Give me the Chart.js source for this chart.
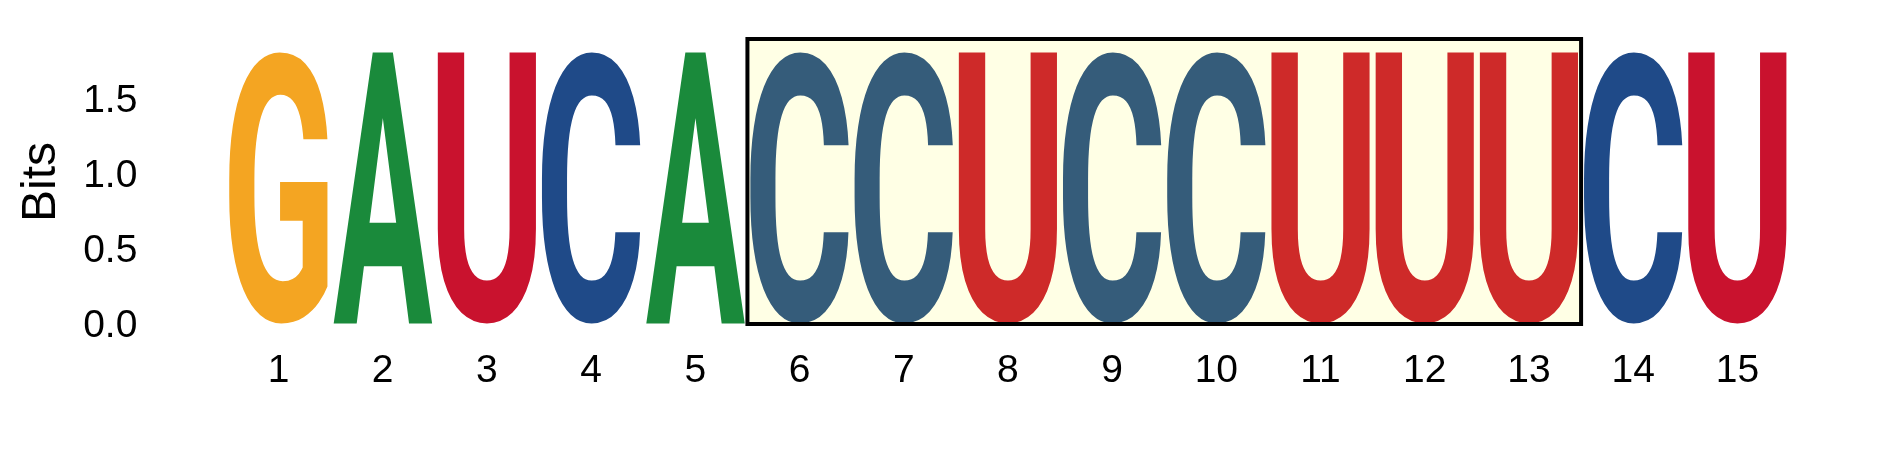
<!DOCTYPE html>
<html>
<head>
<meta charset="utf-8">
<script src="https://cdn.jsdelivr.net/npm/chart.js@4.4.0/dist/chart.umd.min.js"></script>
<style>
  html, body { margin: 0; padding: 0; background: #fff; }
  #wrap { width: 1889px; height: 472px; position: relative; }
</style>
</head>
<body>
<div id="wrap"><canvas id="logo"></canvas></div>
<script>
// sequence logo data
const positions = ['1', '2', '3', '4', '5', '6', '7', '8', '9', '10', '11', '12', '13', '14', '15'];
const letters = ['G', 'A', 'U', 'C', 'A', 'C', 'C', 'U', 'C', 'C', 'U', 'U', 'U', 'C', 'U'];
const bits = [1.85, 1.85, 1.85, 1.85, 1.85, 1.85, 1.85, 1.85, 1.85, 1.85, 1.85, 1.85, 1.85, 1.85, 1.85];
const yTicks = [0, 0.5, 1.0, 1.5];
const yMax = 1.92;
const highlightStart = 6;
const highlightEnd = 13;

const letterColors = { G: '#F4A522', A: '#1A8A3B', U: '#C9122E', C: '#1F4A88' };
const glyphFont = 'bold 200px Roboto, "Liberation Sans", Arial, sans-serif';
const vpad = 0.018;
const textFont = { family: '"Liberation Sans", Arial, sans-serif', size: 39 };

const logoPlugin = {
  id: 'logoGlyphs',
  afterDatasetsDraw(chart) {
    const ctx = chart.ctx;
    const meta = chart.getDatasetMeta(0);
    ctx.save();
    ctx.font = glyphFont;
    ctx.textBaseline = 'alphabetic';
    ctx.textAlign = 'left';
    meta.data.forEach((bar, i) => {
      const { x, y, base, width } = bar.getProps(['x', 'y', 'base', 'width'], true);
      const ch = letters[i];
      const m = ctx.measureText(ch);
      const gw = m.actualBoundingBoxLeft + m.actualBoundingBoxRight;
      const gh = m.actualBoundingBoxAscent + m.actualBoundingBoxDescent;
      const h = base - y;
      const pad = h * vpad / 2;
      ctx.save();
      ctx.translate(x - width / 2, base - pad);
      ctx.scale(width / gw, (h - 2 * pad) / gh);
      ctx.fillStyle = letterColors[ch];
      ctx.fillText(ch, m.actualBoundingBoxLeft, -m.actualBoundingBoxDescent);
      ctx.restore();
    });

    // highlighted range
    const xs = chart.scales.x, ys = chart.scales.y;
    const left = xs.getPixelForValue(highlightStart - 1.5);
    const right = xs.getPixelForValue(highlightEnd - 0.5);
    const top = ys.getPixelForValue(yMax) + 1;
    const bottom = ys.getPixelForValue(0) - 2;
    ctx.fillStyle = 'rgba(255, 255, 0, 0.1)';
    ctx.fillRect(left, top, right - left, bottom - top);
    ctx.lineWidth = 4;
    ctx.strokeStyle = '#000';
    ctx.strokeRect(left, top, right - left, bottom - top);
    ctx.restore();
  }
};

const ctx = document.getElementById('logo').getContext('2d');
const config = {
  type: 'bar',
  data: {
    labels: positions,
    datasets: [{
      label: 'Bits',
      data: bits,
      backgroundColor: 'rgba(0,0,0,0)',
      borderWidth: 0,
      barPercentage: 0.95,
      categoryPercentage: 1.0
    }]
  },
  options: {
    responsive: true,
    maintainAspectRatio: false,
    animation: false,
    events: [],
    layout: { padding: { top: 38, right: 99.5, bottom: 0, left: 0 } },
    plugins: {
      legend: { display: false },
      tooltip: { enabled: false }
    },
    scales: {
      x: {
        type: 'category',
        offset: true,
        grid: { display: false, drawTicks: false },
        border: { display: false },
        ticks: {
          color: '#000',
          font: textFont,
          padding: 22,
          maxRotation: 0,
          autoSkip: false
        },
        afterFit: s => { s.height = 146; s.paddingLeft = 0; s.paddingRight = 0; }
      },
      y: {
        min: 0,
        max: yMax,
        grid: { display: false, drawTicks: false },
        border: { display: false },
        afterBuildTicks: s => { s.ticks = yTicks.map(v => ({ value: v })); },
        ticks: {
          color: '#000',
          font: textFont,
          padding: 89,
          callback: v => Number(v).toFixed(1)
        },
        title: {
          display: true,
          text: 'Bits',
          color: '#000',
          font: { family: '"Liberation Sans", Arial, sans-serif', size: 48 },
          padding: { top: 13, bottom: 0 }
        },
        afterFit: s => { s.width = 226.4; s.paddingTop = 0; s.paddingBottom = 0; }
      }
    }
  },
  plugins: [logoPlugin]
};

var logoChart = new Chart(ctx, config);
</script>
</body>
</html>
